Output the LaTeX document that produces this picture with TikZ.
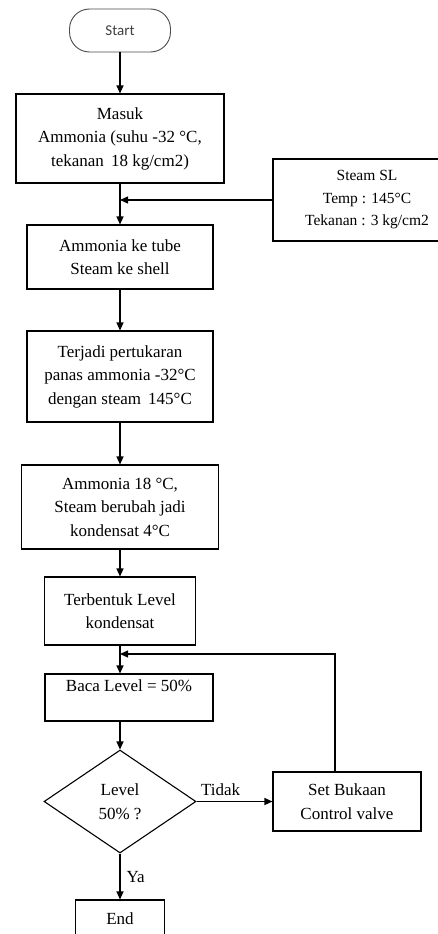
\documentclass[tikz,border=0pt]{standalone}
\usepackage{fontspec}
\setmainfont{Liberation Serif}
\newfontfamily\startfont{Carlito}
\usetikzlibrary{shapes.geometric,arrows.meta}
\begin{document}
\begin{tikzpicture}[x=1pt,y=-1pt,
  line width=1.1pt,
  arr/.style={-{Triangle[length=8pt,width=7pt]}},
  box/.style={draw,rectangle,inner sep=0pt,align=center,
    font=\fontsize{17}{23.5}\selectfont},
  sbox/.style={box,font=\fontsize{15.5}{22.5}\selectfont},
  term/.style={draw=black!70,line width=0.9pt,rectangle,rounded corners=20pt,inner sep=0pt,
    font=\startfont\fontsize{15}{17}\selectfont,text=black!75},
  dec/.style={draw,diamond,inner sep=0pt,align=center,
    font=\fontsize{17}{23.5}\selectfont},
  lbl/.style={inner sep=0pt,font=\fontsize{17}{19}\selectfont}]
\useasboundingbox (0,0) rectangle (438,934);
\fill[white] (0,0) rectangle (438,934);
\node[term,minimum width=101pt,minimum height=43pt] (start) at (120,30.5) {Start};
\node[box,minimum width=208pt,minimum height=89pt] (masuk) at (120,138.5)
  {Masuk\\Ammonia (suhu -32 °C,\\tekanan\, 18 kg/cm2)};
\node[sbox,minimum width=188pt,minimum height=82pt] (steam) at (367,200)
  {Steam SL\\Temp : 145°C\\Tekanan : 3 kg/cm2};
\node[box,minimum width=186pt,minimum height=64pt] (tube) at (120,257)
  {Ammonia ke tube\\Steam ke shell};
\node[box,minimum width=186pt,minimum height=91pt] (terjadi) at (120,376.5)
  {Terjadi pertukaran\\panas ammonia -32°C\\dengan steam\, 145°C};
\node[box,minimum width=197pt,minimum height=84pt] (amm) at (120,507)
  {Ammonia 18 °C,\\Steam berubah jadi\\kondensat 4°C};
\node[box,minimum width=151pt,minimum height=68pt] (terbentuk) at (120,611)
  {Terbentuk Level\\kondensat};
\node[box,minimum width=168pt,minimum height=47pt] (baca) at (129,697.5)
  {Baca Level = 50\%\\\mbox{}};
\node[dec,minimum width=152pt,minimum height=103pt,aspect=1.48] (dec) at (120,801.5)
  {Level\\50\% ?};
\node[box,minimum width=148pt,minimum height=59pt] (set) at (347,801.5)
  {Set Bukaan\\Control valve};
\node[box,minimum width=89pt,minimum height=60pt] (end) at (120,930)
  {End\\\mbox{}};
\coordinate (j1) at (120,200);
\coordinate (j2) at (120,654);
\coordinate (lp) at (335,654);
\draw[arr] (start) -- (masuk);
\draw (masuk.south) -- (j1);
\draw[arr] (j1) -- (tube.north);
\draw[arr] (steam.west) -- (j1);
\draw[arr] (tube) -- (terjadi);
\draw[arr] (terjadi) -- (amm);
\draw[arr] (amm) -- (terbentuk);
\draw (terbentuk.south) -- (j2);
\draw[arr] (j2) -- (j2 |- baca.north);
\draw[arr] (dec.north |- baca.south) -- (dec.north);
\draw[arr] (dec.east) -- (set.west);
\draw[arr] (set.north -| lp) -- (lp) -- (j2);
\draw[arr] (dec.south) -- (end.north);
\node[lbl,anchor=south west] (tidak) at ([xshift=4pt,yshift=5pt]dec.east) {Tidak};
\node[lbl,anchor=west] (ya) at ([xshift=6pt]120,877) {Ya};
\end{tikzpicture}
\end{document}
